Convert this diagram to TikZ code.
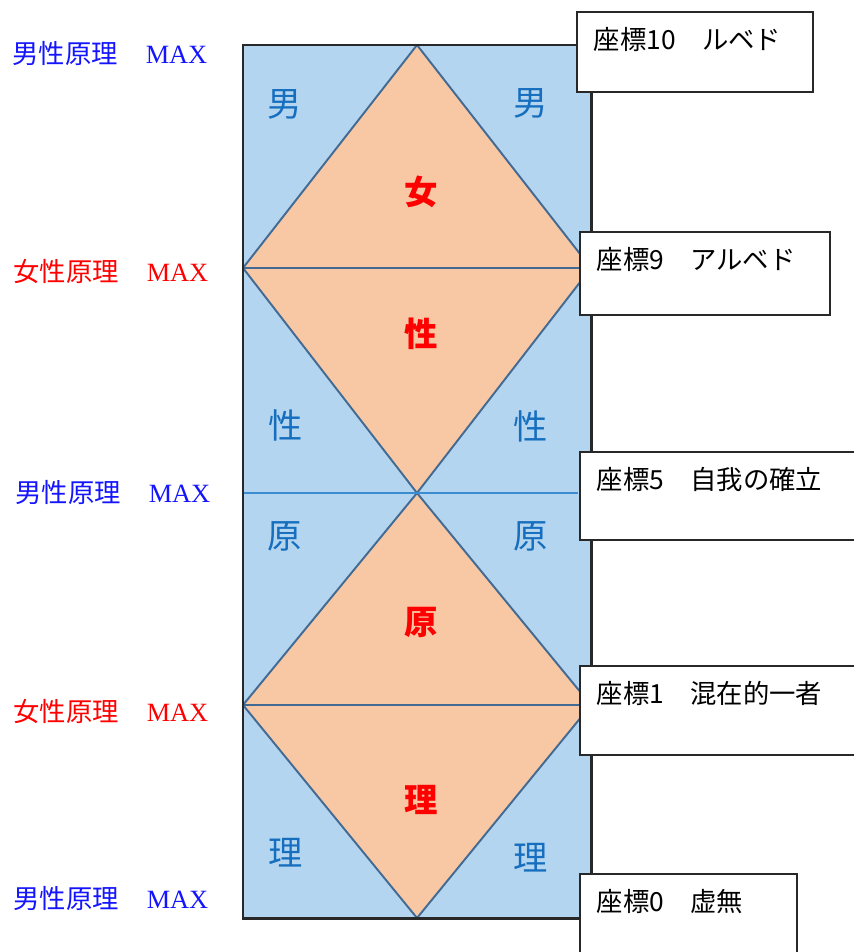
\documentclass[tikz,border=0pt]{standalone}
\usepackage{fontspec}
\usepackage{xcolor}
\usepackage{tikz}
\usetikzlibrary{positioning}
\setmainfont{Liberation Serif}
\newfontfamily\jpfont{Noto Sans CJK JP}
\definecolor{paleblue}{RGB}{180, 213, 240}
\definecolor{peach}{RGB}{248, 200, 165}
\definecolor{edgeblue}{RGB}{66, 106, 146}
\definecolor{midblue}{RGB}{60, 140, 210}
\definecolor{kanjiblue}{RGB}{22, 110, 190}
\definecolor{framegray}{RGB}{40, 40, 40}
\definecolor{maleblue}{RGB}{20, 20, 255}
\definecolor{femred}{RGB}{255, 0, 0}

\begin{document}
\begin{tikzpicture}[
    x=0.02cm, y=-0.02cm,
    half/.style={fill=peach, draw=edgeblue, line width=1.1pt, line join=round},
    kanji/.style={font=\jpfont\fontsize{19.5}{20}\selectfont, text=kanjiblue, inner sep=0pt},
    core/.style={font=\jpfont\bfseries\fontsize{19}{19}\selectfont, text=femred, inner sep=0pt},
    side/.style={anchor=west, inner sep=0pt, font=\fontsize{15}{15}\selectfont},
    malelbl/.style={side, text=maleblue},
    femlbl/.style={side, text=femred},
    coordbox/.style={rectangle, draw=framegray, line width=0.9pt, fill=white, anchor=north west, align=left, inner xsep=0.34cm, inner ysep=0.3cm, text height=0.46cm, font=\jpfont\fontsize{15}{15}\selectfont}
]
    \useasboundingbox (0,0) rectangle (853,952);

    % column
    \fill[paleblue] (243,45) rectangle (591,918);
    \draw[half] (417,45) -- (591,268) -- (243,268) -- cycle;
    \draw[half] (243,268) -- (591,268) -- (417,493) -- cycle;
    \draw[half] (417,493) -- (591,705) -- (243,705) -- cycle;
    \draw[half] (243,705) -- (591,705) -- (417,918) -- cycle;
    \draw[midblue, line width=1.1pt] (243,493) -- (578,493);
    \draw[framegray, line width=1.7pt] (243,45) rectangle (591,918);

    % characters in the column
    \node[kanji] (m1) at (285,104) {男};
    \node[kanji] (m2) at (531,103) {男};
    \node[core] (w) at (421,192) {女};
    \node[core] (s) at (421,334) {性};
    \node[kanji] (s1) at (286,425) {性};
    \node[kanji] (s2) at (531,426) {性};
    \node[kanji] (g1) at (285,536) {原};
    \node[kanji] (g2) at (531,536) {原};
    \node[core] (g) at (421,622) {原};
    \node[core] (r) at (421,800) {理};
    \node[kanji] (r1) at (286,853) {理};
    \node[kanji] (r2) at (531,858) {理};

    % left labels
    \node[malelbl] (lv1) at (12,53) {{\jpfont 男性原理}\hspace{0.56cm}MAX};
    \node[femlbl] (lv2) at (13,272) {{\jpfont 女性原理}\hspace{0.56cm}MAX};
    \node[malelbl] (lv3) at (15,492) {{\jpfont 男性原理}\hspace{0.56cm}MAX};
    \node[femlbl] (lv4) at (13,712) {{\jpfont 女性原理}\hspace{0.56cm}MAX};
    \node[malelbl] (lv5) at (13,898) {{\jpfont 男性原理}\hspace{0.56cm}MAX};

    % coordinate boxes
    \node[coordbox, text width=4.04cm, text depth=0.54cm] (c10) at (576,11) {座標10　ルベド};
    \node[coordbox, text width=4.32cm, text depth=0.6cm] (c9) at (579,231) {座標9　アルベド};
    \node[coordbox, text width=5.2cm, text depth=0.7cm] (c5) at (579,451) {座標5　自我の確立};
    \node[coordbox, text width=5.2cm, text depth=0.72cm] (c1) at (579,665) {座標1　混在的一者};
    \node[coordbox, text width=3.66cm, text depth=0.75cm] (c0) at (579,873) {座標0　虚無};
\end{tikzpicture}
\end{document}
